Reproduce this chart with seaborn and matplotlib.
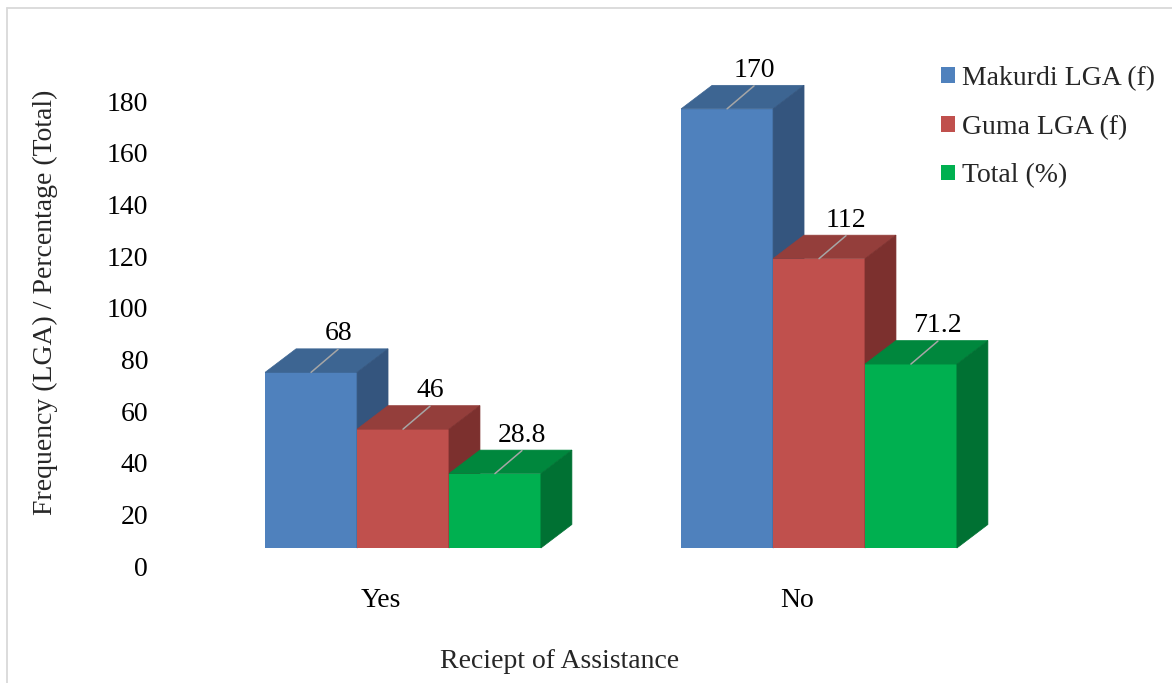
import numpy as np
import pandas as pd
import matplotlib
matplotlib.use("Agg")
import matplotlib.pyplot as plt
from matplotlib.patches import Polygon, Patch
from matplotlib.lines import Line2D
import seaborn as sns

# ---- data -------------------------------------------------------------
categories = ["Yes", "No"]
series = ["Makurdi LGA (f)", "Guma LGA (f)", "Total (%)"]
makurdi = [68, 170]
guma = [46, 112]
total = [28.8, 71.2]
yticks = [0, 20, 40, 60, 80, 100, 120, 140, 160, 180]

# ---- style ------------------------------------------------------------
front_colors = ["#4F81BD", "#C0504D", "#00B050"]
top_colors = ["#3D6592", "#943E3B", "#00873D"]
side_colors = ["#34557E", "#7C302E", "#007133"]
leader_color = "#A6A6A6"
FS = 20

sns.set_theme(style="white")
plt.rcParams["font.family"] = ["Liberation Serif", "DejaVu Serif"]

W, H, DPI = 1172, 683, 100
fig = plt.figure(figsize=(W / DPI, H / DPI), dpi=DPI)
fig.patch.set_facecolor("white")

# plotting area in pixels (front faces of the bars)
ax_left, ax_right = 195, 1027
ax_base, px_per_unit = 548, 2.5833
ymax = 190
ax_h = ymax * px_per_unit


def fig_rect(left, base, width, height):
    return [left / W, (H - base) / H, width / W, height / H]


# overlay carrying the tick labels (set back on the rear wall)
TICK_DX, TICK_DY = -22, 18
ax_t = fig.add_axes(fig_rect(ax_left + TICK_DX, ax_base + TICK_DY,
                             ax_right - ax_left, ax_h), zorder=0)
ax_t.set_xlim(-0.5, 1.5)
ax_t.set_ylim(0, ymax)
ax_t.set_xticks(range(len(categories)), categories)
ax_t.set_yticks(yticks, [str(t) for t in yticks])
ax_t.tick_params(axis="both", length=0, labelsize=FS, colors="black")
ax_t.tick_params(axis="y", pad=18)
ax_t.tick_params(axis="x", pad=16)
ax_t.patch.set_alpha(0)
for s in ax_t.spines.values():
    s.set_visible(False)

# main axes with the bars
ax = fig.add_axes(fig_rect(ax_left, ax_base, ax_right - ax_left, ax_h), zorder=1)
ax.patch.set_alpha(0)

rows = []
for name, vals in zip(series, [makurdi, guma, total]):
    for cat, v in zip(categories, vals):
        rows.append({"Assistance": cat, "Series": name, "Value": v})
df = pd.DataFrame(rows)

sns.barplot(data=df, x="Assistance", y="Value", hue="Series",
            order=categories, hue_order=series, palette=front_colors,
            saturation=1, width=0.663, errorbar=None, legend=False,
            edgecolor="none", linewidth=0, ax=ax)

ax.set_xlim(-0.5, 1.5)
ax.set_ylim(0, ymax)
ax.set_xticks([])
ax.set_yticks([])
ax.set_xlabel("")
ax.set_ylabel("")
for s in ax.spines.values():
    s.set_visible(False)

# depth of the 3-D boxes, converted from pixels to data units
px_per_x = (ax_right - ax_left) / 2.0
DEPTH_X, DEPTH_Y = 31, 23.5
ddx = DEPTH_X / px_per_x
ddy = DEPTH_Y / px_per_unit

LEAD_X, LEAD_Y, LABEL_GAP = 27, 23, 9

values = [makurdi, guma, total]
for i, cont in enumerate(ax.containers):
    for j, rect in enumerate(cont):
        x0 = rect.get_x()
        w = rect.get_width()
        h = rect.get_height()
        rect.set_zorder(2 + i)
        rect.set_edgecolor(front_colors[i])
        top = Polygon([(x0, h), (x0 + w, h), (x0 + w + ddx, h + ddy),
                       (x0 + ddx, h + ddy)], closed=True,
                      facecolor=top_colors[i], edgecolor=top_colors[i],
                      linewidth=0.5, zorder=2.5 + i, clip_on=False)
        side = Polygon([(x0 + w, 0), (x0 + w + ddx, ddy),
                        (x0 + w + ddx, h + ddy), (x0 + w, h)], closed=True,
                       facecolor=side_colors[i], edgecolor=side_colors[i],
                       linewidth=0.5, zorder=2.5 + i, clip_on=False)
        ax.add_patch(top)
        ax.add_patch(side)

        xc = x0 + w / 2
        xe = xc + LEAD_X / px_per_x
        ye = h + LEAD_Y / px_per_unit
        ax.add_line(Line2D([xc, xe], [h, ye], color=leader_color,
                           linewidth=1.1, zorder=2.6 + i, clip_on=False))
        ax.text(xe, ye + LABEL_GAP / px_per_unit, f"{values[i][j]:g}",
                ha="center", va="baseline", fontsize=FS, color="black",
                zorder=10, clip_on=False)

# axis titles
fig.text(45 / W, 1 - 302 / H, "Frequency (LGA) / Percentage (Total)",
         rotation=90, ha="center", va="center", fontsize=FS)
fig.text(560 / W, 1 - 661 / H, "Reciept of Assistance",
         ha="center", va="center", fontsize=FS)

# legend
handles = [Patch(facecolor=c, edgecolor="none") for c in front_colors]
fig.legend(handles=handles, labels=series, loc="upper left",
           bbox_to_anchor=(941 / W, 1 - 66 / H), frameon=False,
           fontsize=FS, handlelength=0.5, handleheight=0.5,
           handletextpad=0.25, labelspacing=0.85, borderpad=0,
           borderaxespad=0)

# light chart-area border (top and left edges)
border = "#D9D9D9"
fig.add_artist(Line2D([7 / W, 1], [1 - 8 / H, 1 - 8 / H], color=border,
                      linewidth=1.3, transform=fig.transFigure))
fig.add_artist(Line2D([7 / W, 7 / W], [0, 1 - 8 / H], color=border,
                      linewidth=1.3, transform=fig.transFigure))

fig.savefig("out.png", dpi=DPI, facecolor="white")
